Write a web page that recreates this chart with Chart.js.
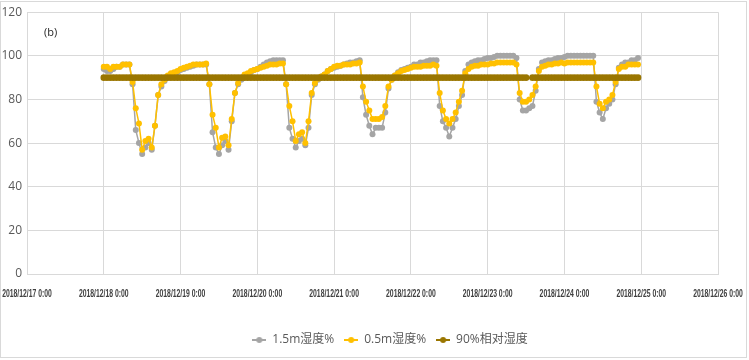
<!DOCTYPE html>
<html>
<head>
<meta charset="utf-8">
<script src="https://cdn.jsdelivr.net/npm/chart.js@4.4.1/dist/chart.umd.min.js"></script>
<style>
  html, body { margin: 0; padding: 0; background: #fff; }
  #wrap { position: relative; width: 749px; height: 360px; }
  #frame { position: absolute; left: 0; top: 1px; width: 745px; height: 355px; border: 1px solid #d9d9d9; pointer-events: none; }
</style>
</head>
<body>
<div id="wrap">
  <canvas id="rh-chart" width="749" height="360"></canvas>
  <div id="frame"></div>
</div>
<script>
// x tick labels, one per day (axis runs in hours from 2018/12/17 0:00)
const tickLabels = [
  '2018/12/17 0:00', '2018/12/18 0:00', '2018/12/19 0:00', '2018/12/20 0:00', '2018/12/21 0:00',
  '2018/12/22 0:00', '2018/12/23 0:00', '2018/12/24 0:00', '2018/12/25 0:00', '2018/12/26 0:00'
];
const startHour = 24; // first hourly reading at 2018/12/18 0:00

const seriesNames = ['1.5m湿度%', '0.5m湿度%', '90%相对湿度'];

// hourly readings, one row per day (12/18 .. 12/24)
const rh15 = [
  94, 93, 93, 94, 95, 95, 96, 96, 96, 87, 66, 60, 55, 58, 60, 57, 68, 82, 86, 88.5, 90.5, 91.5, 92, 92.5,
  93.5, 94, 94.5, 95, 95.5, 96, 96, 96, 96, 87, 65, 58, 55, 59, 61, 57, 70, 83, 87, 89, 90.5, 91.5, 92.5, 93.5,
  94, 95, 96, 97, 97.5, 98, 98, 98, 98, 87, 67, 62, 58, 61, 62, 59, 67, 82, 87, 89, 90.5, 91.5, 93, 94,
  94.5, 95, 95.5, 96, 96.5, 97, 97, 97.5, 98, 81, 73, 68, 64, 67, 67, 67, 74, 85, 89, 91, 92.5, 93.5, 94, 94.5,
  95, 96, 96, 97, 97, 97.5, 98, 98, 98, 77, 70, 67, 63, 67, 71, 77, 82, 93, 96, 97, 97.5, 98, 98, 98.5,
  99, 99, 99.5, 100, 100, 100, 100, 100, 100, 99, 80, 75, 75, 76, 77, 84, 94, 97, 97.5, 98, 98, 98.5, 99, 99,
  99.5, 100, 100, 100, 100, 100, 100, 100, 100, 100, 79, 74, 71, 76, 78, 80, 87, 94.5, 96, 97, 97, 98, 98, 99
];
const rh05 = [
  95, 95, 94, 95, 95, 95, 96, 96, 96, 88, 76, 69, 57, 61, 62, 58, 68, 82, 87, 89, 91, 92, 92.5, 93,
  94, 94.5, 95, 95.5, 96, 96, 96, 96, 96.5, 87, 73, 67, 58, 62.5, 63, 59, 71, 83, 87.5, 90, 91.5, 92, 93, 93.5,
  94, 94.5, 95, 95.5, 96, 96, 96, 96.5, 96.5, 87, 77, 70, 61, 64, 65, 60, 70, 83, 87.5, 89.5, 90.5, 91.5, 93, 94,
  95, 95.5, 95.5, 96, 96, 96, 96.5, 96.5, 97, 86, 79, 75, 71, 71, 71, 72, 77, 86, 89, 91, 92, 93, 93.5, 94,
  94.5, 95, 95, 95, 95.5, 95.5, 95.5, 96, 95.5, 83, 75, 71, 69, 71, 74, 79, 84, 92, 94, 95, 95.5, 95.5, 96, 96,
  96, 96.5, 96.5, 97, 97, 97, 97, 97, 97, 96, 83, 79, 79, 80, 82, 86, 93, 95, 95.5, 96, 96, 96.5, 96.5, 97,
  96.5, 97, 97, 97, 97, 97, 97, 97, 97, 97, 86, 78, 76, 79, 80, 82, 88, 94, 95, 95, 96, 96, 96, 96
];
const rh90 = [
  90, 90, 90, 90, 90, 90, 90, 90, 90, 90, 90, 90, 90, 90, 90, 90, 90, 90, 90, 90, 90, 90, 90, 90,
  90, 90, 90, 90, 90, 90, 90, 90, 90, 90, 90, 90, 90, 90, 90, 90, 90, 90, 90, 90, 90, 90, 90, 90,
  90, 90, 90, 90, 90, 90, 90, 90, 90, 90, 90, 90, 90, 90, 90, 90, 90, 90, 90, 90, 90, 90, 90, 90,
  90, 90, 90, 90, 90, 90, 90, 90, 90, 90, 90, 90, 90, 90, 90, 90, 90, 90, 90, 90, 90, 90, 90, 90,
  90, 90, 90, 90, 90, 90, 90, 90, 90, 90, 90, 90, 90, 90, 90, 90, 90, 90, 90, 90, 90, 90, 90, 90,
  90, 90, 90, 90, 90, 90, 90, 90, 90, 90, 90, 90, 90, null, 90, 90, 90, 90, 90, 90, 90, 90, 90, 90,
  90, 90, 90, 90, 90, 90, 90, 90, 90, 90, 90, 90, 90, 90, 90, 90, 90, 90, 90, 90, 90, 90, 90, 90
];

const colors = ['#a5a5a5', '#ffc000', '#9a7600'];

function toPoints(values) {
  return values.map((v, i) => ({ x: startHour + i, y: v }));
}

// little "line with dot" swatch for the legend, like the spreadsheet legend
function legendSwatch(color) {
  const c = document.createElement('canvas');
  c.width = 14; c.height = 8;
  const g = c.getContext('2d');
  g.strokeStyle = color;
  g.lineWidth = 2;
  g.beginPath(); g.moveTo(0, 4); g.lineTo(14, 4); g.stroke();
  g.fillStyle = color;
  g.beginPath(); g.arc(7, 4, 3, 0, Math.PI * 2); g.fill();
  return c;
}

// panel tag, squeezed date labels under the x axis, legend nudged right
const extras = {
  id: 'extras',
  afterLayout(chart) {
    if (chart.legend) {
      chart.legend.left += 31;
      chart.legend.right += 31;
    }
  },
  afterDraw(chart) {
    const ctx = chart.ctx;
    const area = chart.chartArea;
    const xs = chart.scales.x;
    ctx.save();
    ctx.font = '11px "Open Sans", "DejaVu Sans", sans-serif';
    ctx.fillStyle = '#262626';
    ctx.textBaseline = 'middle';
    ctx.fillText('(b)', area.left + 17, area.top + 21);

    ctx.font = 'bold 11px "Liberation Sans", Arial, sans-serif';
    ctx.fillStyle = '#404040';
    ctx.textAlign = 'center';
    tickLabels.forEach((label, i) => {
      const px = xs.getPixelForValue(i * 24);
      ctx.save();
      ctx.translate(px, area.bottom + 20);
      ctx.scale(0.62, 1);
      ctx.fillText(label, 0, 0);
      ctx.restore();
    });
    ctx.restore();
  }
};

const ctx = document.getElementById('rh-chart').getContext('2d');
new Chart(ctx, {
  type: 'line',
  data: {
    datasets: [
      {
        label: seriesNames[0],
        data: toPoints(rh15),
        borderColor: colors[0],
        backgroundColor: colors[0],
        borderWidth: 1.5,
        pointRadius: 3,
        pointBorderWidth: 0,
        order: 3
      },
      {
        label: seriesNames[1],
        data: toPoints(rh05),
        borderColor: colors[1],
        backgroundColor: colors[1],
        borderWidth: 1.5,
        pointRadius: 3,
        pointBorderWidth: 0,
        order: 2
      },
      {
        label: seriesNames[2],
        data: toPoints(rh90),
        borderColor: colors[2],
        backgroundColor: colors[2],
        borderWidth: 2,
        pointRadius: 3.3,
        pointBorderWidth: 0,
        spanGaps: true,
        order: 1
      }
    ]
  },
  options: {
    responsive: false,
    animation: false,
    layout: { padding: { left: 0, right: 31, top: 12, bottom: 4 } },
    scales: {
      x: {
        type: 'linear',
        min: 0,
        max: 216,
        afterFit(scale) { scale.height = 50; },
        ticks: { stepSize: 24, autoSkip: false, display: false },
        grid: { color: '#d9d9d9', drawTicks: false },
        border: { color: '#d9d9d9' }
      },
      y: {
        min: 0,
        max: 120,
        afterFit(scale) { scale.width = 27; },
        ticks: {
          stepSize: 20,
          padding: 5,
          color: '#595959',
          font: { family: '"Open Sans", sans-serif', size: 12 }
        },
        grid: { color: '#d9d9d9', drawTicks: false },
        border: { color: '#d9d9d9' }
      }
    },
    plugins: {
      legend: {
        position: 'bottom',
        labels: {
          usePointStyle: true,
          pointStyleWidth: 14,
          boxHeight: 8,
          padding: 10,
          color: '#595959',
          font: { family: '"Open Sans", "Noto Sans CJK SC", sans-serif', size: 12 },
          sort: (a, b) => a.datasetIndex - b.datasetIndex,
          generateLabels(chart) {
            const items = Chart.defaults.plugins.legend.labels.generateLabels(chart);
            items.forEach(item => { item.pointStyle = legendSwatch(colors[item.datasetIndex]); });
            return items;
          }
        }
      },
      tooltip: { enabled: false }
    }
  },
  plugins: [extras]
});
</script>
</body>
</html>
